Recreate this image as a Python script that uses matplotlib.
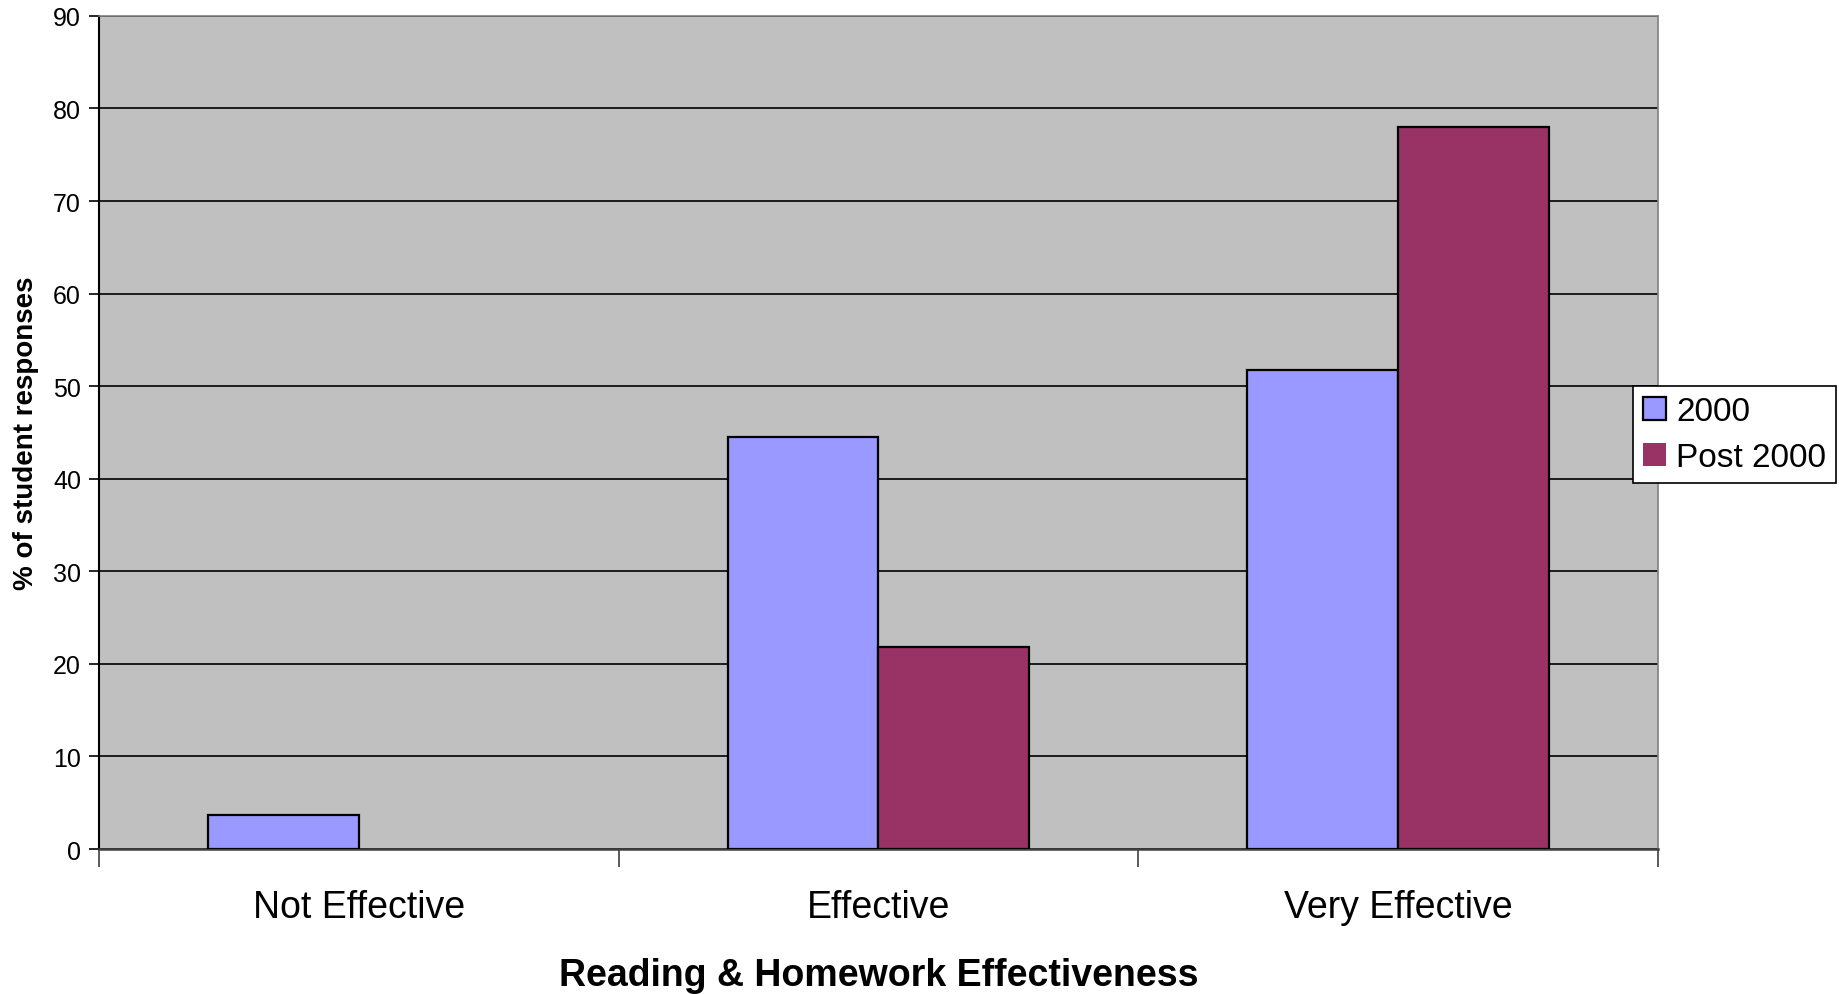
import numpy as np
import matplotlib.pyplot as plt

# datos
categorias = ['Not Effective', 'Effective', 'Very Effective']
serie_2000 = [3.7, 44.5, 51.8]
serie_post = [0, 21.8, 78.0]
etiquetas = ['2000', 'Post 2000']

plt.rcParams['font.family'] = ['Liberation Sans', 'DejaVu Sans']

fig = plt.figure(figsize=(18.39, 9.95), dpi=100)
ax = fig.add_axes([0.0538, 0.1457, 0.8478, 0.8373])
ax.set_facecolor('#C0C0C0')

x = np.arange(len(categorias))
ancho = 0.29
# barras con valor 0 no se dibujan (sin borde)
bordes_2000 = [1.6 if v > 0 else 0 for v in serie_2000]
bordes_post = [1.6 if v > 0 else 0 for v in serie_post]
ax.bar(x - ancho / 2, serie_2000, ancho, color='#9999FF', edgecolor='black',
       linewidth=bordes_2000, label=etiquetas[0], zorder=3)
ax.bar(x + ancho / 2, serie_post, ancho, color='#993366', edgecolor='black',
       linewidth=bordes_post, label=etiquetas[1], zorder=3)

ax.set_xlim(-0.5, 2.5)
ax.set_ylim(0, 90)
ax.set_yticks(np.arange(0, 91, 10))
ax.yaxis.grid(True, color='black', linewidth=1.2, zorder=1)
ax.set_axisbelow(True)

ax.set_xticks(x)
ax.set_xticklabels(categorias, fontsize=27)
ax.set_xticks([-0.5, 0.5, 1.5, 2.5], minor=True)
ax.tick_params(axis='x', which='major', length=0, pad=29)
ax.tick_params(axis='x', which='minor', length=13, width=1.2, color='#404040')
ax.tick_params(axis='y', labelsize=18, length=7, width=1.2, pad=6)

for lado in ['top', 'right']:
    ax.spines[lado].set_color('#808080')
    ax.spines[lado].set_linewidth(1.2)
ax.spines['left'].set_linewidth(1.5)
ax.spines['bottom'].set_linewidth(1.8)
ax.spines['bottom'].set_color('#404040')

ax.set_xlabel('Reading & Homework Effectiveness', fontsize=27, fontweight='bold', labelpad=23)
ax.set_ylabel('% of student responses', fontsize=20, fontweight='bold', labelpad=10)

leg = fig.legend(loc='upper left', bbox_to_anchor=(0.888, 0.611), fontsize=24,
                 frameon=True, fancybox=False, edgecolor='black', framealpha=1,
                 handlelength=0.7, handleheight=0.7, handletextpad=0.3,
                 borderpad=0.3, labelspacing=0.45, borderaxespad=0)
leg.get_frame().set_linewidth(1.2)

fig.savefig('out.png', dpi=100)
